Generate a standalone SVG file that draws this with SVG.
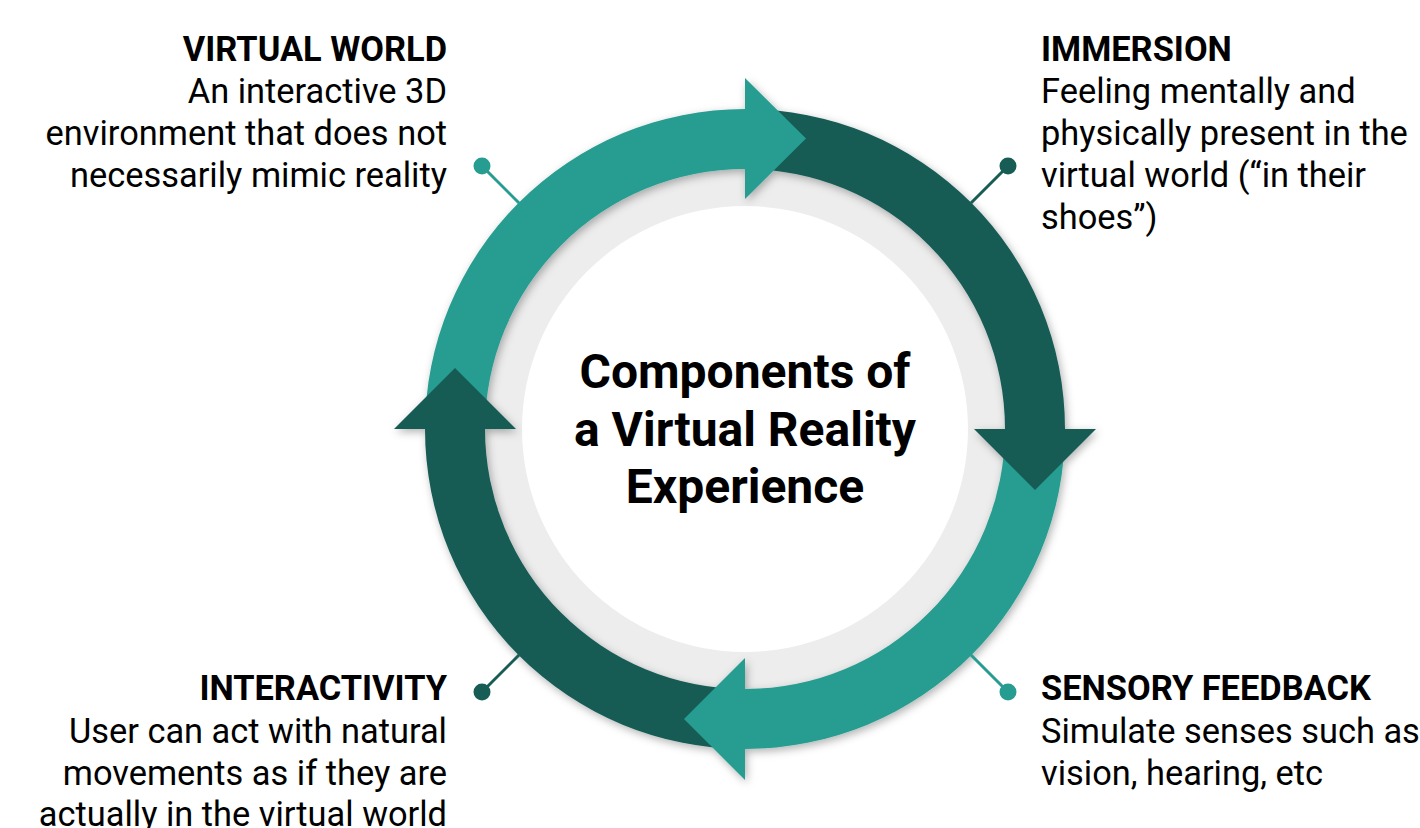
<svg xmlns="http://www.w3.org/2000/svg" width="1420" height="828" viewBox="0 0 1420 828">
  <defs>
    <filter id="ringShadow" x="-10%" y="-10%" width="120%" height="120%">
      <feDropShadow dx="2" dy="3" stdDeviation="4" flood-color="#000" flood-opacity="0.3"/>
    </filter>
    <style>
      .teal { fill: #269d90; }
      .dark { fill: #175c55; }
      .lnk-teal { stroke: #269d90; stroke-width: 3; fill: none; }
      .lnk-dark { stroke: #175c55; stroke-width: 3; fill: none; }
      .head { font-family: Roboto, "Liberation Sans", sans-serif; font-weight: 700; font-size: 34.4px; fill: #000; }
      .body { font-family: Roboto, "Liberation Sans", sans-serif; font-weight: 400; font-size: 34.4px; fill: #000; }
      .title { font-family: Roboto, "Liberation Sans", sans-serif; font-weight: 700; font-size: 48px; fill: #000; text-anchor: middle; }
    </style>
  </defs>
  <rect width="1420" height="828" fill="#fff"/>

  <!-- hub: gray disc with white centre -->
  <g id="hub">
    <circle cx="745" cy="429" r="262" fill="#ededed"/>
    <circle cx="745" cy="429" r="223" fill="#fff"/>
    <text class="title" x="745" y="388">Components of</text>
    <text class="title" x="745" y="446">a Virtual Reality</text>
    <text class="title" x="745" y="503">Experience</text>
  </g>

  <!-- cycle ring: four arc bands, heads drawn last so each overlaps the next band -->
  <g id="cycle" filter="url(#ringShadow)">
    <path class="teal" d="M425,429 A320,320 0 0 1 745,109 L745,169 A260,260 0 0 0 485,429 Z"/>
    <path class="dark" d="M745,109 A320,320 0 0 1 1065,429 L1005,429 A260,260 0 0 0 745,169 Z"/>
    <path class="teal" d="M1065,429 A320,320 0 0 1 745,749 L745,689 A260,260 0 0 0 1005,429 Z"/>
    <path class="dark" d="M745,749 A320,320 0 0 1 425,429 L485,429 A260,260 0 0 0 745,689 Z"/>
    <path class="teal" d="M745,78 L806,138.5 L745,199 Z"/>
    <path class="dark" d="M974,429 L1096,429 L1035,490 Z"/>
    <path class="teal" d="M745,658 L684,719 L745,780 Z"/>
    <path class="dark" d="M394,429 L455,368 L516,429 Z"/>
  </g>

  <!-- leader lines with end dots -->
  <g id="connectors">
    <line class="lnk-teal" x1="519" y1="203" x2="482" y2="166"/>
    <circle class="teal" cx="482" cy="166" r="8.5"/>
    <line class="lnk-dark" x1="971" y1="203" x2="1008" y2="166"/>
    <circle class="dark" cx="1008" cy="166" r="8.5"/>
    <line class="lnk-dark" x1="519" y1="655" x2="482" y2="692"/>
    <circle class="dark" cx="482" cy="692" r="8.5"/>
    <line class="lnk-teal" x1="971" y1="655" x2="1008" y2="692"/>
    <circle class="teal" cx="1008" cy="692" r="8.5"/>
  </g>

  <g id="virtual-world" text-anchor="end">
    <text class="head" x="447" y="61">VIRTUAL WORLD</text>
    <text class="body" x="447" y="103">An interactive 3D</text>
    <text class="body" x="447" y="145">environment that does not</text>
    <text class="body" x="447" y="187">necessarily mimic reality</text>
  </g>

  <g id="immersion">
    <text class="head" x="1041" y="61">IMMERSION</text>
    <text class="body" x="1041" y="103">Feeling mentally and</text>
    <text class="body" x="1041" y="145">physically present in the</text>
    <text class="body" x="1041" y="187">virtual world (“in their</text>
    <text class="body" x="1041" y="229">shoes”)</text>
  </g>

  <g id="interactivity" text-anchor="end">
    <text class="head" x="447" y="700">INTERACTIVITY</text>
    <text class="body" x="447" y="743">User can act with natural</text>
    <text class="body" x="447" y="785">movements as if they are</text>
    <text class="body" x="447" y="826">actually in the virtual world</text>
  </g>

  <g id="sensory-feedback">
    <text class="head" x="1041" y="700">SENSORY FEEDBACK</text>
    <text class="body" x="1041" y="743">Simulate senses such as</text>
    <text class="body" x="1041" y="785">vision, hearing, etc</text>
  </g>
</svg>
